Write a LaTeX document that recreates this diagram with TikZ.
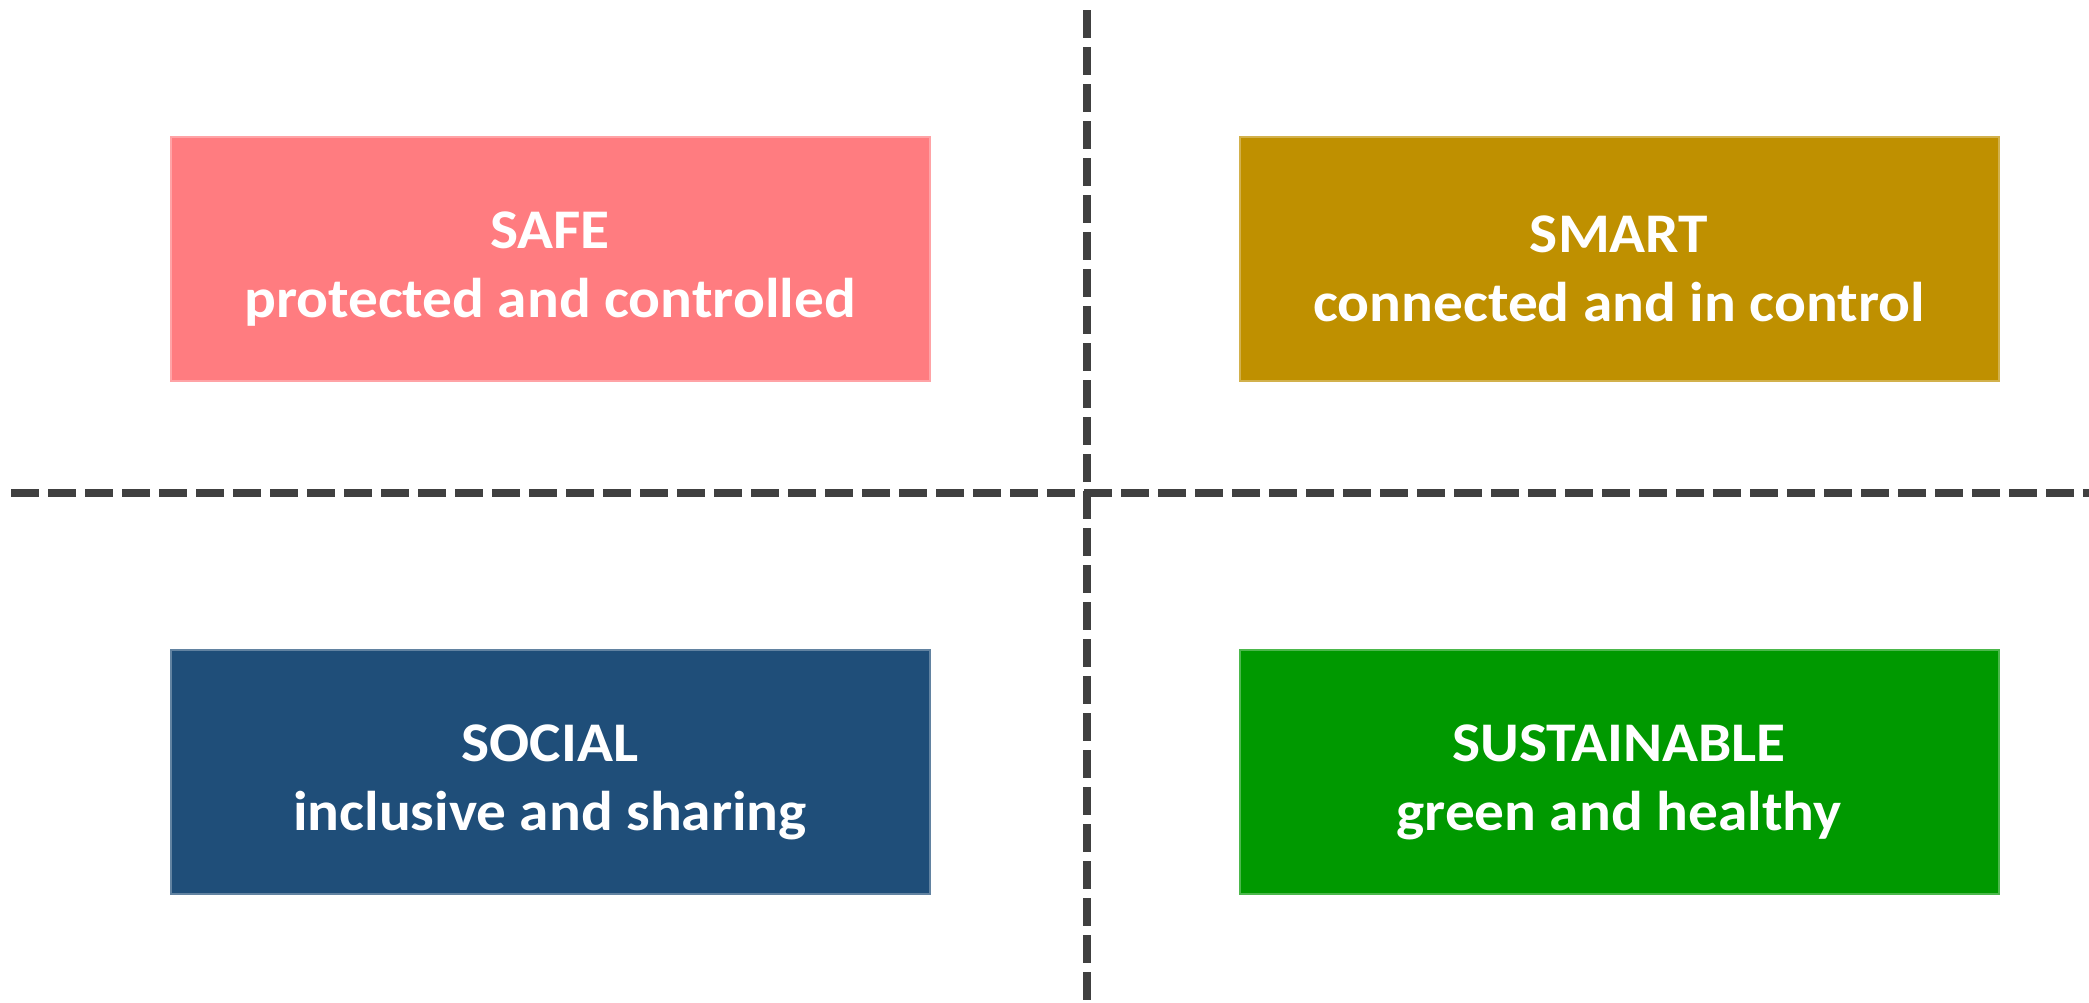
\documentclass[tikz,border=0pt]{standalone}
\usepackage{fontspec}
\setmainfont{Carlito}[FakeStretch=1.06]
\definecolor{safec}{HTML}{FF7C80}
\definecolor{smartc}{HTML}{BF9000}
\definecolor{socialc}{HTML}{1F4E79}
\definecolor{sustc}{HTML}{009900}
\definecolor{dashc}{HTML}{404040}
\begin{document}
\begin{tikzpicture}[x=1pt,y=-1pt,
  box/.style={minimum width=759pt,minimum height=244pt,inner sep=0pt,line width=2pt},
  lbl/.style={align=center,text=white,font=\fontsize{56}{69}\selectfont\bfseries,inner sep=0pt},
  divider/.style={draw=dashc,line width=8pt,dash pattern=on 28pt off 9pt}]
\useasboundingbox (0,0) rectangle (2089,1002);
\node[box,fill=safec,draw=safec!70!white] (safe) at (550,259) {};
\node[box,fill=smartc,draw=smartc!70!white] (smart) at (1619,259) {};
\node[box,fill=socialc,draw=socialc!70!white] (social) at (550,772) {};
\node[box,fill=sustc,draw=sustc!70!white] (sust) at (1619,772) {};
\node[lbl] (safet) at ([yshift=-10pt]safe.center) {SAFE\\protected and controlled};
\node[lbl] (smartt) at ([yshift=-10pt]smart.center) {SMART\\connected and in control};
\node[lbl] (socialt) at ([yshift=-10pt]social.center) {SOCIAL\\inclusive and sharing};
\node[lbl] (sustt) at ([yshift=-10pt]sust.center) {SUSTAINABLE\\green and healthy};
\coordinate (vt) at (1087,10);
\coordinate (vb) at (1087,1002);
\coordinate (hl) at (11,493);
\coordinate (hr) at (2089,493);
\draw[divider] (vt) -- (vb);
\draw[divider] (hl) -- (hr);
\end{tikzpicture}
\end{document}
